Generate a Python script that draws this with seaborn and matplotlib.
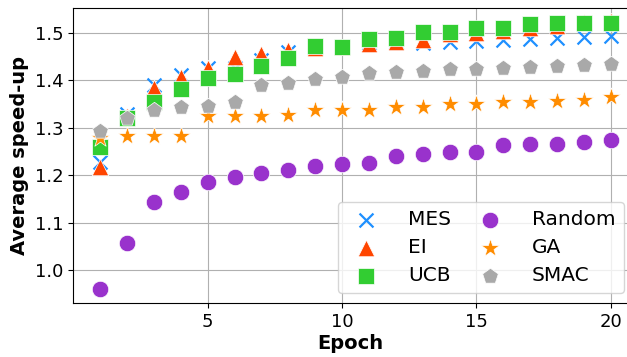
import numpy as np
import pandas as pd
import matplotlib
matplotlib.use("Agg")
import matplotlib.pyplot as plt
import seaborn as sns

# epochs 1..20, average speed-up per method
epochs = list(range(1, 21))
mes = [1.228, 1.330, 1.390, 1.411, 1.426, 1.426, 1.443, 1.460, 1.470, 1.470,
       1.478, 1.480, 1.478, 1.482, 1.483, 1.485, 1.487, 1.490, 1.492, 1.494]
ei = [1.218, 1.325, 1.383, 1.408, 1.426, 1.449, 1.456, 1.464, 1.468, 1.470,
      1.476, 1.480, 1.486, 1.497, 1.500, 1.505, 1.510, 1.515, 1.524, 1.525]
ucb = [1.260, 1.320, 1.355, 1.382, 1.406, 1.413, 1.430, 1.447, 1.473, 1.471,
       1.487, 1.490, 1.502, 1.503, 1.510, 1.510, 1.518, 1.520, 1.520, 1.520]
rand = [0.960, 1.057, 1.144, 1.165, 1.186, 1.196, 1.204, 1.211, 1.220, 1.224,
        1.226, 1.240, 1.245, 1.249, 1.249, 1.264, 1.266, 1.266, 1.270, 1.274]
ga = [1.278, 1.283, 1.283, 1.283, 1.325, 1.325, 1.325, 1.327, 1.338, 1.338,
      1.338, 1.344, 1.344, 1.350, 1.350, 1.354, 1.354, 1.357, 1.359, 1.365]
smac = [1.293, 1.320, 1.338, 1.344, 1.346, 1.355, 1.390, 1.394, 1.403, 1.408,
        1.415, 1.417, 1.420, 1.424, 1.424, 1.427, 1.429, 1.430, 1.432, 1.434]

names = ["MES", "EI", "UCB", "Random", "GA", "SMAC"]
values = [mes, ei, ucb, rand, ga, smac]
markers = ["x", "^", "s", "o", "*", "p"]
colors = ["#1E90FF", "#FF4500", "#32CD32", "#9932CC", "#FF8C00", "#A9A9A9"]
sizes = [100, 140, 130, 140, 190, 140]

fig, ax = plt.subplots(figsize=(6.27, 3.57), dpi=100)

for name, vals, m, c, s in zip(names, values, markers, colors, sizes):
    df = pd.DataFrame({"Epoch": epochs, "speedup": vals})
    if m == "x":
        sns.scatterplot(data=df, x="Epoch", y="speedup", marker=m, color=c,
                        s=s, linewidth=1.6, label=name, ax=ax)
    else:
        sns.scatterplot(data=df, x="Epoch", y="speedup", marker=m, color=c,
                        s=s, edgecolor="white", linewidth=0.5, label=name, ax=ax)

ax.set_xlim(0, 20.6)
ax.set_ylim(0.93, 1.553)
ax.set_xticks([5, 10, 15, 20])
ax.set_yticks([1.0, 1.1, 1.2, 1.3, 1.4, 1.5])
ax.grid(True, color="#b0b0b0", linewidth=0.8)
ax.set_axisbelow(True)
ax.spines["right"].set_visible(False)
ax.tick_params(labelsize=13)
ax.set_xlabel("Epoch", fontsize=14, fontweight="bold", labelpad=2)
ax.set_ylabel("Average speed-up", fontsize=14, fontweight="bold")
ax.legend(ncol=2, loc="lower right", bbox_to_anchor=(1.012, 0.0),
          fontsize=14.5, markerscale=1.0,
          handletextpad=1.1, columnspacing=0.9, borderpad=0.4,
          labelspacing=0.45, framealpha=0.8)

fig.subplots_adjust(left=0.117, right=1.0, top=0.978, bottom=0.151)
fig.savefig("out.png", dpi=100)
